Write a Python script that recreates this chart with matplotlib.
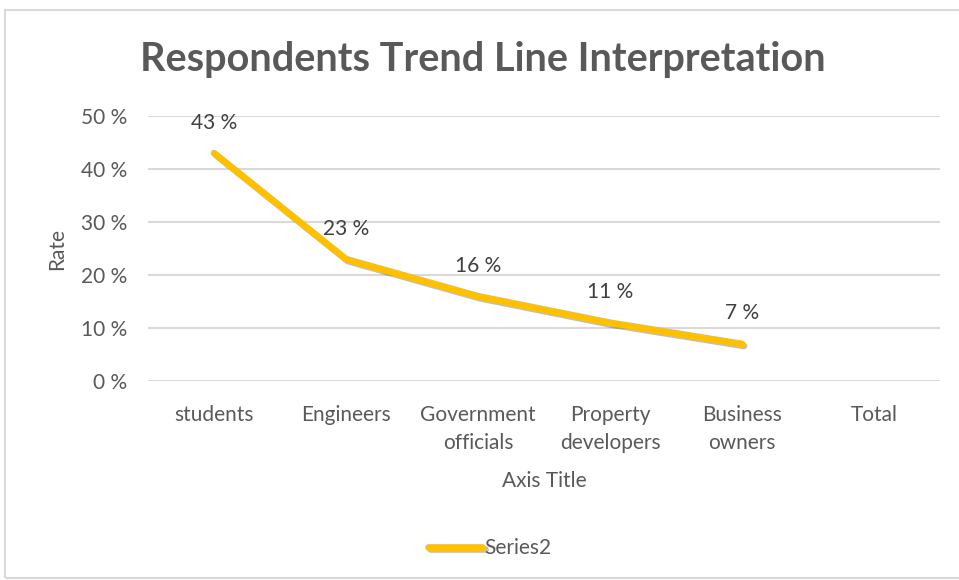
import matplotlib.pyplot as plt
import matplotlib.patheffects as pe
from matplotlib.patches import Rectangle

# chart data
categories = ['students', 'Engineers', 'Government\nofficials',
              'Property\ndevelopers', 'Business\nowners', 'Total']
rates = [43, 23, 16, 11, 7]          # percent, "Total" has no value
y_ticks = [0, 10, 20, 30, 40, 50]

plt.rcParams['font.family'] = ['Lato', 'DejaVu Sans']
grey = '#595959'

fig = plt.figure(figsize=(9.59, 5.80), dpi=100)
ax = fig.add_axes([148/959, 1-381/580, 792/959, 265/580])

# outer chart border
fig.patches.append(Rectangle((5/959, 2/580), 1.0, 1-12/580, transform=fig.transFigure,
                             fill=False, edgecolor='#d9d9d9', lw=1.5))

x = list(range(len(rates)))
line, = ax.plot(x, rates, color='#FFC000', lw=4.8, solid_capstyle='round',
                label='Series2', zorder=3)
line.set_path_effects([pe.SimpleLineShadow(offset=(1.5, -1.5), alpha=0.25, shadow_color='k'),
                       pe.Normal()])

for xi, v in zip(x, rates):
    ax.annotate(f'{v} %', (xi, v), xytext=(0, 22), textcoords='offset points',
                ha='center', va='center', fontsize=15, color='#404040')

ax.set_xlim(-0.5, len(categories) - 0.5)
ax.set_ylim(0, 50)
ax.set_yticks(y_ticks)
ax.set_yticklabels([f'{t} %' for t in y_ticks])
ax.set_xticks(range(len(categories)))
ax.set_xticklabels(categories, linespacing=1.55)
ax.tick_params(length=0, labelsize=15, labelcolor=grey)
ax.tick_params(axis='x', pad=17)
ax.tick_params(axis='y', pad=15)
ax.grid(axis='y', color='#d9d9d9', lw=1.5)
ax.set_axisbelow(True)
for s in ax.spines.values():
    s.set_visible(False)

ax.set_ylabel('Rate', fontsize=15, color=grey, labelpad=10)
ax.set_xlabel('Axis Title', fontsize=15, color=grey, labelpad=13)

fig.text(483/959, 1-60/580, 'Respondents Trend Line Interpretation', ha='center', va='center',
         fontsize=28.5, fontweight='bold', color=grey)

fig.legend(handles=[line], loc='center', bbox_to_anchor=(490/959, 1-548/580), frameon=False,
           fontsize=15, labelcolor=grey, handlelength=2.6, handletextpad=0.1)

fig.savefig('out.png', dpi=100)
